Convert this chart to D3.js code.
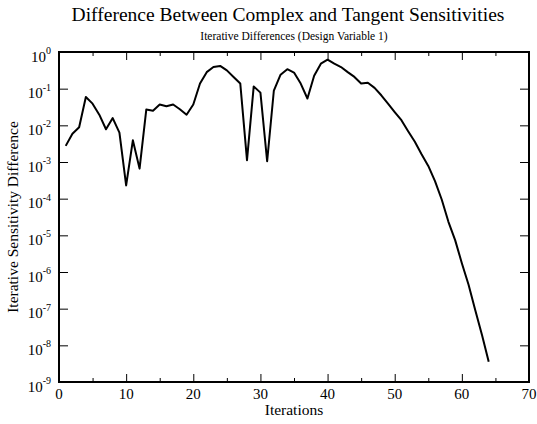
<!DOCTYPE html>
<html>
<head>
<meta charset="utf-8">
<script src="https://cdn.jsdelivr.net/npm/d3@7"></script>
<style>
  body { margin: 0; background: #fff; }
  text { font-family: "Liberation Serif", "Times New Roman", serif; fill: #000; }
</style>
</head>
<body>
<div id="chart-area"></div>
<script>
// iteration number and |complex - tangent| sensitivity difference
var iterations = d3.range(1, 65);
var differences = [
  2.75e-3, 5.9e-3, 8.9e-3, 5.9e-2, 3.9e-2, 1.95e-2, 7.8e-3, 1.58e-2, 6.3e-3, 2.3e-4,
  3.9e-3, 6.6e-4, 2.7e-2, 2.5e-2, 3.7e-2, 3.3e-2, 3.7e-2, 2.75e-2, 1.95e-2, 3.7e-2,
  0.138, 0.282, 0.389, 0.417, 0.316, 0.209, 0.138, 1.12e-3, 0.115, 7.8e-2,
  1.05e-3, 8.9e-2, 0.24, 0.339, 0.275, 0.138, 5.4e-2, 0.224, 0.479, 0.617,
  0.479, 0.389, 0.282, 0.209, 0.138, 0.145, 0.105, 6.6e-2, 3.9e-2, 2.3e-2,
  1.38e-2, 6.9e-3, 3.55e-3, 1.62e-3, 7.8e-4, 3.0e-4, 9.5e-5, 2.34e-5, 7.4e-6, 1.74e-6,
  4.5e-7, 9.1e-8, 1.9e-8, 3.55e-9
];
var xTicks = [0, 10, 20, 30, 40, 50, 60, 70];
var xMinorTicks = [5, 15, 25, 35, 45, 55, 65];
var yExponents = [0, -1, -2, -3, -4, -5, -6, -7, -8, -9];

var margin = { left: 59, right: 8, top: 52, bottom: 42 };
var width = 537 - margin.left - margin.right;
var height = 424 - margin.top - margin.bottom;

var svg = d3.select("#chart-area")
  .append("svg")
  .attr("width", 537)
  .attr("height", 424);

var g = svg.append("g")
  .attr("transform", "translate(" + margin.left + "," + margin.top + ")");

var x = d3.scaleLinear().domain([0, 70]).range([0, width]);
var y = d3.scaleLog().domain([1e-9, 1]).range([height, 0]);

// titles
svg.append("text")
  .attr("x", 288)
  .attr("y", 21)
  .attr("font-size", "19.5px")
  .attr("text-anchor", "middle")
  .text("Difference Between Complex and Tangent Sensitivities");

svg.append("text")
  .attr("x", margin.left + width / 2)
  .attr("y", 40)
  .attr("font-size", "11.5px")
  .attr("text-anchor", "middle")
  .text("Iterative Differences (Design Variable 1)");

// ticks (inward, mirrored on top/right)
var xMajor = d3.axisBottom(x).tickValues(xTicks).tickSize(-8).tickFormat("");
var xMajorTop = d3.axisTop(x).tickValues(xTicks).tickSize(-8).tickFormat("");
var xMinor = d3.axisBottom(x).tickValues(xMinorTicks).tickSize(-4).tickFormat("");
var xMinorTop = d3.axisTop(x).tickValues(xMinorTicks).tickSize(-4).tickFormat("");
var yVals = yExponents.map(function(e) { return Math.pow(10, e); });
var yLeft = d3.axisLeft(y).tickValues(yVals).tickSize(-9).tickFormat("");
var yRight = d3.axisRight(y).tickValues(yVals).tickSize(-9).tickFormat("");

g.append("g").attr("transform", "translate(0," + height + ")").call(xMajor);
g.append("g").attr("transform", "translate(0," + height + ")").call(xMinor);
g.append("g").call(xMajorTop);
g.append("g").call(xMinorTop);
g.append("g").call(yLeft);
g.append("g").attr("transform", "translate(" + width + ",0)").call(yRight);

g.selectAll(".domain").remove();
g.selectAll(".tick line").attr("stroke", "#000").attr("stroke-width", 1);

// x tick labels
g.selectAll(".xlabel")
  .data(xTicks)
  .enter()
  .append("text")
    .attr("x", function(d) { return x(d); })
    .attr("y", height + 17)
    .attr("font-size", "15px")
    .attr("text-anchor", "middle")
    .text(function(d) { return d; });

// y tick labels: 10 with superscript exponent
var yl = g.selectAll(".ylabel")
  .data(yExponents)
  .enter()
  .append("text")
    .attr("x", -8)
    .attr("y", function(d) { return y(Math.pow(10, d)) + 9.5; })
    .attr("font-size", "15px")
    .attr("text-anchor", "end");
yl.append("tspan").text("10");
yl.append("tspan")
  .attr("dy", -7.5)
  .attr("font-size", "10px")
  .text(function(d) { return d; });

// frame
g.append("rect")
  .attr("width", width)
  .attr("height", height)
  .attr("fill", "none")
  .attr("stroke", "#000")
  .attr("stroke-width", 2);

// data line
var line = d3.line()
  .x(function(d, i) { return x(iterations[i]); })
  .y(function(d) { return y(d); });

g.append("path")
  .datum(differences)
  .attr("fill", "none")
  .attr("stroke", "#000")
  .attr("stroke-width", 2)
  .attr("stroke-linejoin", "round")
  .attr("d", line);

// axis labels
g.append("text")
  .attr("x", width / 2)
  .attr("y", height + 33)
  .attr("font-size", "15.5px")
  .attr("text-anchor", "middle")
  .text("Iterations");

g.append("text")
  .attr("x", -height / 2)
  .attr("y", -41)
  .attr("font-size", "15.5px")
  .attr("text-anchor", "middle")
  .attr("transform", "rotate(-90)")
  .text("Iterative Sensitivity Difference");
</script>
</body>
</html>
